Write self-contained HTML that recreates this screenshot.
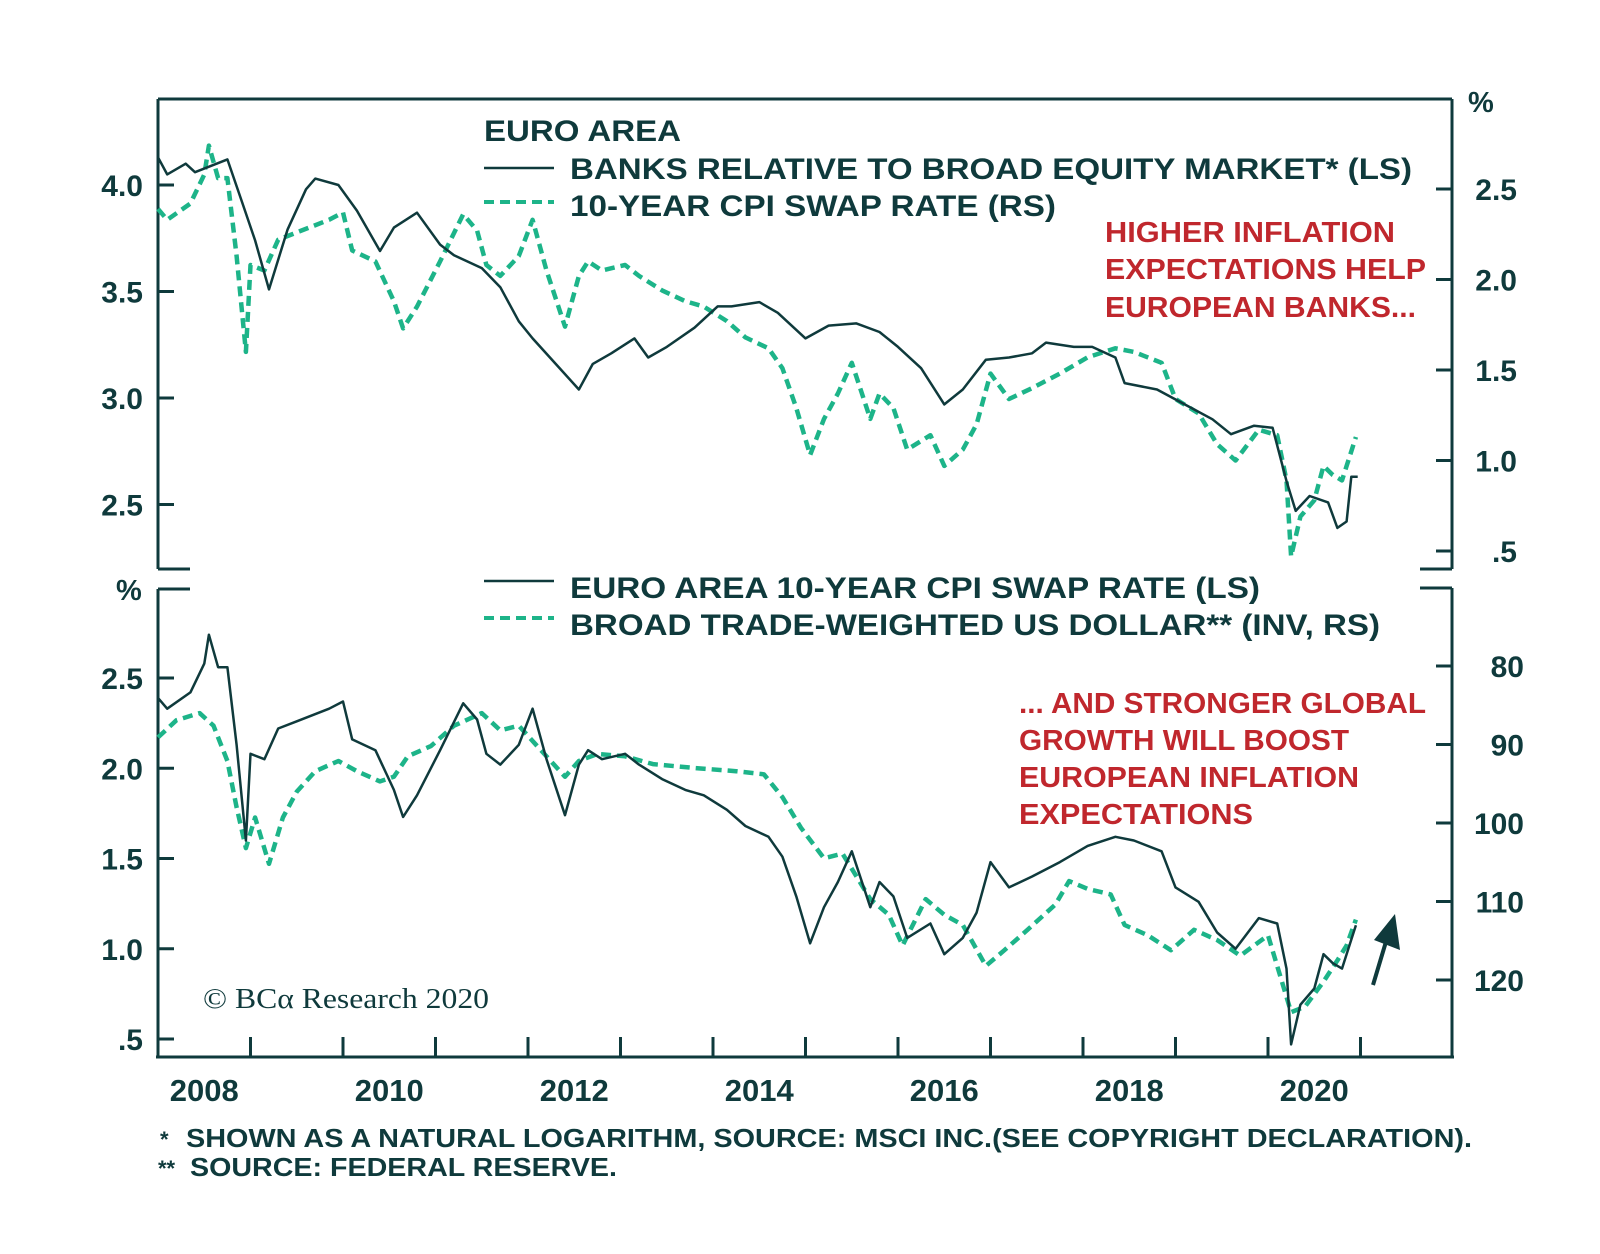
<!DOCTYPE html>
<html><head><meta charset="utf-8"><style>
html,body{margin:0;padding:0;background:#fff;}
svg{display:block;}
text{font-family:"Liberation Sans",Arial,sans-serif;font-weight:bold;fill:#0f3a3c;}
.red{fill:#c0272d;}
</style></head><body>
<svg id="chart" width="1600" height="1254" viewBox="0 0 1600 1254">
<g id="axes" stroke="#0f3a3c" stroke-width="3" fill="none">
  <line x1="158" y1="99" x2="1452" y2="99"/>
  <line x1="158" y1="99" x2="158" y2="569"/>
  <line x1="1452" y1="99" x2="1452" y2="569"/>
  <line x1="158" y1="569" x2="190" y2="569"/>
  <line x1="1420" y1="569" x2="1452" y2="569"/>
  <line x1="158" y1="589" x2="190" y2="589"/>
  <line x1="1420" y1="588" x2="1452" y2="588"/>
  <line x1="158" y1="589" x2="158" y2="1058"/>
  <line x1="1452" y1="588" x2="1452" y2="1058"/>
  <line x1="156" y1="1057" x2="1454" y2="1057"/>
</g>
<g id="ticks"></g>
<g id="series"></g>

<text x="1468" y="112" font-size="29">%</text>
<text x="116" y="600" font-size="29">%</text>

<g>
  <text x="484" y="141" font-size="30" textLength="197" lengthAdjust="spacingAndGlyphs">EURO AREA</text>
  <line x1="484" y1="168" x2="554" y2="168" stroke="#0f3a3c" stroke-width="2.5"/>
  <text x="570" y="179" font-size="30" textLength="842" lengthAdjust="spacingAndGlyphs">BANKS RELATIVE TO BROAD EQUITY MARKET* (LS)</text>
  <line x1="484" y1="202" x2="554" y2="202" stroke="#1db489" stroke-width="4" stroke-dasharray="10,6"/>
  <text x="570" y="216" font-size="30" textLength="486" lengthAdjust="spacingAndGlyphs">10-YEAR CPI SWAP RATE (RS)</text>
</g>
<g>
  <text class="red" x="1105" y="242" font-size="29" textLength="290" lengthAdjust="spacingAndGlyphs">HIGHER INFLATION</text>
  <text class="red" x="1105" y="279" font-size="29" textLength="321" lengthAdjust="spacingAndGlyphs">EXPECTATIONS HELP</text>
  <text class="red" x="1105" y="317" font-size="29" textLength="311" lengthAdjust="spacingAndGlyphs">EUROPEAN BANKS...</text>
</g>
<g>
  <line x1="484" y1="581" x2="554" y2="581" stroke="#0f3a3c" stroke-width="2.5"/>
  <text x="570" y="598" font-size="30" textLength="690" lengthAdjust="spacingAndGlyphs">EURO AREA 10-YEAR CPI SWAP RATE (LS)</text>
  <line x1="484" y1="618" x2="554" y2="618" stroke="#1db489" stroke-width="4" stroke-dasharray="10,6"/>
  <text x="570" y="635" font-size="30" textLength="810" lengthAdjust="spacingAndGlyphs">BROAD TRADE-WEIGHTED US DOLLAR** (INV, RS)</text>
</g>
<g>
  <text class="red" x="1019" y="713" font-size="29" textLength="407" lengthAdjust="spacingAndGlyphs">... AND STRONGER GLOBAL</text>
  <text class="red" x="1019" y="750" font-size="29" textLength="330" lengthAdjust="spacingAndGlyphs">GROWTH WILL BOOST</text>
  <text class="red" x="1019" y="787" font-size="29" textLength="340" lengthAdjust="spacingAndGlyphs">EUROPEAN INFLATION</text>
  <text class="red" x="1019" y="824" font-size="29" textLength="234" lengthAdjust="spacingAndGlyphs">EXPECTATIONS</text>
</g>
<g>
  <line x1="1373" y1="985" x2="1388" y2="935" stroke="#0f3a3c" stroke-width="4"/>
  <polygon points="1395,914 1400,950 1374,940" fill="#0f3a3c"/>
</g>
<text x="203" y="1008" font-size="28" textLength="286" lengthAdjust="spacingAndGlyphs" style="font-family:'Liberation Serif',serif;font-weight:normal">© BCα Research 2020</text>
<text x="160" y="1147" font-size="22">*</text>
<text x="186" y="1147" font-size="26" textLength="1286" lengthAdjust="spacingAndGlyphs">SHOWN AS A NATURAL LOGARITHM, SOURCE: MSCI INC.(SEE COPYRIGHT DECLARATION).</text>
<text x="158" y="1176" font-size="22">**</text>
<text x="190" y="1176" font-size="26" textLength="427" lengthAdjust="spacingAndGlyphs">SOURCE: FEDERAL RESERVE.</text>
</svg>
<script>
const banksT = [2008.0,2008.1,2008.3,2008.4,2008.75,2008.9,2009.05,2009.2,2009.4,2009.6,2009.7,2009.95,2010.15,2010.4,2010.55,2010.8,2011.05,2011.2,2011.5,2011.7,2011.9,2012.05,2012.3,2012.55,2012.7,2012.9,2013.15,2013.3,2013.5,2013.8,2014.05,2014.2,2014.5,2014.7,2015.0,2015.25,2015.55,2015.8,2016.0,2016.25,2016.5,2016.7,2016.95,2017.2,2017.45,2017.6,2017.9,2018.1,2018.35,2018.45,2018.8,2019.1,2019.4,2019.6,2019.85,2020.05,2020.2,2020.3,2020.45,2020.65,2020.75,2020.85,2020.9,2020.97];
const banksV = [4.13,4.05,4.10,4.06,4.12,3.93,3.74,3.51,3.79,3.98,4.03,4.00,3.88,3.69,3.80,3.87,3.72,3.67,3.61,3.52,3.36,3.28,3.16,3.04,3.16,3.21,3.28,3.19,3.24,3.33,3.43,3.43,3.45,3.40,3.28,3.34,3.35,3.31,3.24,3.14,2.97,3.04,3.18,3.19,3.21,3.26,3.24,3.24,3.19,3.07,3.04,2.97,2.90,2.83,2.87,2.86,2.61,2.47,2.54,2.51,2.39,2.42,2.63,2.63];
const swapT = [2008.0,2008.1,2008.35,2008.5,2008.55,2008.65,2008.75,2008.85,2008.95,2009.0,2009.15,2009.3,2009.5,2009.85,2010.0,2010.1,2010.35,2010.55,2010.65,2010.8,2011.05,2011.3,2011.45,2011.55,2011.7,2011.9,2012.05,2012.2,2012.4,2012.55,2012.65,2012.8,2013.05,2013.2,2013.45,2013.7,2013.9,2014.15,2014.35,2014.6,2014.75,2014.9,2015.05,2015.2,2015.35,2015.5,2015.7,2015.8,2015.95,2016.1,2016.35,2016.5,2016.7,2016.85,2017.0,2017.2,2017.45,2017.75,2018.05,2018.35,2018.55,2018.85,2019.0,2019.25,2019.45,2019.65,2019.9,2020.1,2020.2,2020.25,2020.35,2020.5,2020.6,2020.7,2020.8,2020.95];
const swapV = [2.39,2.33,2.42,2.58,2.74,2.56,2.56,2.13,1.60,2.08,2.05,2.22,2.26,2.33,2.37,2.16,2.10,1.88,1.73,1.85,2.10,2.36,2.27,2.08,2.02,2.13,2.33,2.05,1.74,2.02,2.10,2.05,2.08,2.02,1.94,1.88,1.85,1.77,1.68,1.62,1.51,1.29,1.03,1.23,1.37,1.54,1.23,1.37,1.29,1.06,1.14,0.97,1.06,1.20,1.48,1.34,1.40,1.48,1.57,1.62,1.60,1.54,1.34,1.26,1.09,1.00,1.17,1.14,0.89,0.47,0.69,0.78,0.97,0.92,0.89,1.13];
const usdT = [2008.0,2008.2,2008.45,2008.6,2008.75,2008.85,2008.95,2009.05,2009.2,2009.35,2009.5,2009.7,2009.95,2010.15,2010.4,2010.55,2010.7,2010.95,2011.2,2011.5,2011.7,2011.9,2012.1,2012.4,2012.55,2012.75,2013.05,2013.35,2013.8,2014.25,2014.55,2014.75,2014.95,2015.2,2015.4,2015.7,2015.9,2016.05,2016.3,2016.5,2016.7,2016.95,2017.15,2017.4,2017.7,2017.85,2018.05,2018.3,2018.45,2018.7,2018.95,2019.2,2019.45,2019.7,2020.0,2020.15,2020.25,2020.4,2020.6,2020.75,2020.85,2020.95];
const usdV = [89.1,86.9,86.0,87.6,92.1,98.0,103.2,99.3,105.2,99.3,96.0,93.4,92.1,93.4,94.7,94.1,91.5,90.2,87.6,86.0,88.2,87.6,90.2,94.1,92.1,91.2,91.5,92.5,93.0,93.4,93.8,96.7,100.6,104.5,103.9,109.7,111.7,115.6,109.7,111.7,113.0,118.2,116.2,113.6,110.4,107.4,108.4,109.1,113.0,114.3,116.2,113.6,114.9,116.9,114.3,120.2,124.1,123.4,120.2,117.5,115.6,112.3];
const leftTopTicks = [4.0,3.5,3.0,2.5];
const rightTopTicks = [2.5,2.0,1.5,1.0,0.5];
const leftBotTicks = [2.5,2.0,1.5,1.0,0.5];
const rightBotTicks = [80,90,100,110,120];
const yearTicks = [2009,2010,2011,2012,2013,2014,2015,2016,2017,2018,2019,2020,2021];
const yearLabels = [2008,2010,2012,2014,2016,2018,2020];

const NS='http://www.w3.org/2000/svg';
const X = t => 158 + (t-2008)*92.5;
const yTL = v => 185 + (4.0-v)*213;
const yTR = v => 189 + (2.5-v)*181;
const yBL = v => 678 + (2.5-v)*180.5;
const yBR = v => 666 + (v-80)*7.85;
const fmt = v => v===0.5 ? '.5' : (Number.isInteger(v)&&v>10 ? String(v) : v.toFixed(1));

function mk(tag, attrs, parent){const e=document.createElementNS(NS,tag);for(const k in attrs)e.setAttribute(k,attrs[k]);parent.appendChild(e);return e;}
const ticksG=document.getElementById('ticks');
const seriesG=document.getElementById('series');
const C='#0f3a3c';

function tickSet(vals, yf, side, labelX, name){
  vals.forEach(v=>{
    const y=yf(v);
    const x1 = side==='L'?158:1436, x2 = side==='L'?174:1452;
    const l=mk('line',{x1:x1,y1:y,x2:x2,y2:y,stroke:C,'stroke-width':3},ticksG);
    
    
    const t=mk('text',{x:labelX,y:y+11,'font-size':30,'text-anchor':'end'},ticksG);
    t.textContent=fmt(v);
    
    
  });
}
tickSet(leftTopTicks,yTL,'L',143,'top-left-axis');
tickSet(rightTopTicks,yTR,'R',1517,'top-right-axis');
tickSet(leftBotTicks,yBL,'L',143,'bottom-left-axis');
tickSet(rightBotTicks,yBR,'R',1524,'bottom-right-axis');
yearTicks.forEach(yr=>{
  const l=mk('line',{x1:X(yr),y1:1037,x2:X(yr),y2:1057,stroke:C,'stroke-width':3},ticksG);
  
  
});
yearLabels.forEach(yr=>{
  const t=mk('text',{x:X(yr+0.5),y:1101,'font-size':31,'text-anchor':'middle'},ticksG);
  t.textContent=yr;
  
  
});

function line(ts, vs, yf, color, w, dash, name){
  const d=ts.map((t,i)=>(i?'L':'M')+X(t).toFixed(1)+','+yf(vs[i]).toFixed(1)).join(' ');
  const p=mk('path',{d:d,fill:'none',stroke:color,'stroke-width':w,'stroke-linejoin':'round'},seriesG);
  if(dash)p.setAttribute('stroke-dasharray',dash);
  
  
}
line(swapT,swapV,yTR,'#1db489',4.5,'10,6','top-cpi-swap-line');
line(banksT,banksV,yTL,C,2.5,null,'top-banks-line');
line(usdT,usdV,yBR,'#1db489',4.5,'10,6','bottom-dollar-line');
line(swapT,swapV,yBL,C,2.5,null,'bottom-cpi-swap-line');
</script>
</body></html>
